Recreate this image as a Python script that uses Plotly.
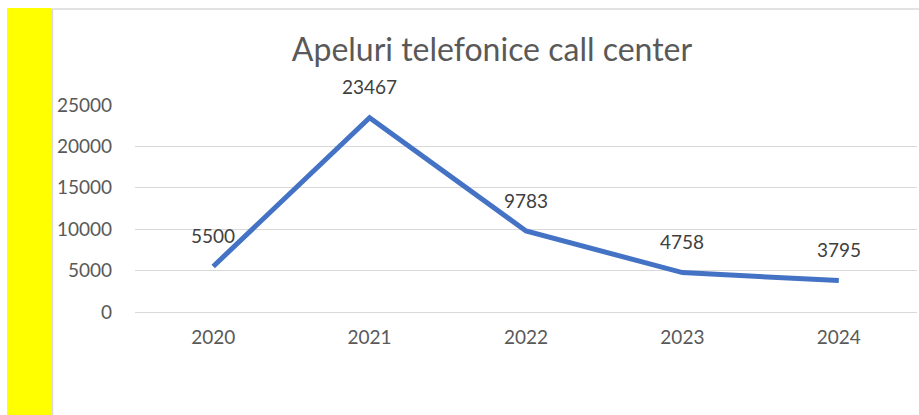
import plotly.graph_objects as go

years = ["2020", "2021", "2022", "2023", "2024"]
calls = [5500, 23467, 9783, 4758, 3795]
y_ticks = [0, 5000, 10000, 15000, 20000, 25000]
title_text = "Apeluri telefonice call center"

FONT = "Lato, 'Open Sans', sans-serif"
GRAY = "#595959"
GRID = "#D9D9D9"

# plot area in pixels: x 135..917, y 105..312
L, R, T, B = 135, 917, 105, 312
W, H = 919, 415
pw, ph = R - L, B - T

def px_x(p):
    return (p - L) / pw

def px_y(p):
    return (B - p) / ph

fig = go.Figure()
fig.add_trace(go.Scatter(
    x=years, y=calls, mode="lines",
    line=dict(color="#4472C4", width=5),
    hoverinfo="skip", showlegend=False,
))

for i, yv in enumerate(calls):
    fig.add_annotation(x=i, y=yv, xref="x", yref="y", text=str(yv), showarrow=False,
                       yshift=31, font=dict(family=FONT, size=19, color="#404040"))

shapes = [
    dict(type="rect", xref="paper", yref="paper",
         x0=px_x(7), x1=px_x(52), y0=px_y(415), y1=px_y(8),
         fillcolor="#FFFF00", line=dict(width=0), layer="below"),
    dict(type="line", xref="paper", yref="paper",
         x0=px_x(52.5), x1=px_x(919), y0=px_y(9), y1=px_y(9),
         line=dict(color=GRID, width=1.5)),
    dict(type="line", xref="paper", yref="paper",
         x0=px_x(52.5), x1=px_x(52.5), y0=px_y(9), y1=px_y(415),
         line=dict(color=GRID, width=1.5)),
]

fig.update_layout(
    width=W, height=H,
    margin=dict(l=L, r=W - R, t=T, b=H - B, pad=0),
    paper_bgcolor="white", plot_bgcolor="white",
    title=dict(text=title_text, x=492 / W, xanchor="center",
               y=1 - 50 / H, yanchor="middle",
               font=dict(family=FONT, size=32, color=GRAY)),
    shapes=shapes,
    xaxis=dict(type="category", range=[-0.5, 4.5], showgrid=False,
               showline=True, linecolor=GRID, linewidth=1,
               ticks="", ticklabelstandoff=8,
               tickfont=dict(family=FONT, size=19, color=GRAY),
               fixedrange=True),
    yaxis=dict(range=[0, 25000.5], tickvals=y_ticks, tickformat="d",
               showgrid=True, gridcolor=GRID, gridwidth=1,
               zeroline=False, showline=False, ticks="",
               ticklabelstandoff=22,
               tickfont=dict(family=FONT, size=19, color=GRAY),
               fixedrange=True),
    font=dict(family=FONT),
)

fig.write_html("out.html", config={"displayModeBar": False},
               post_script="document.body.style.margin='0';document.body.style.overflow='hidden';")
